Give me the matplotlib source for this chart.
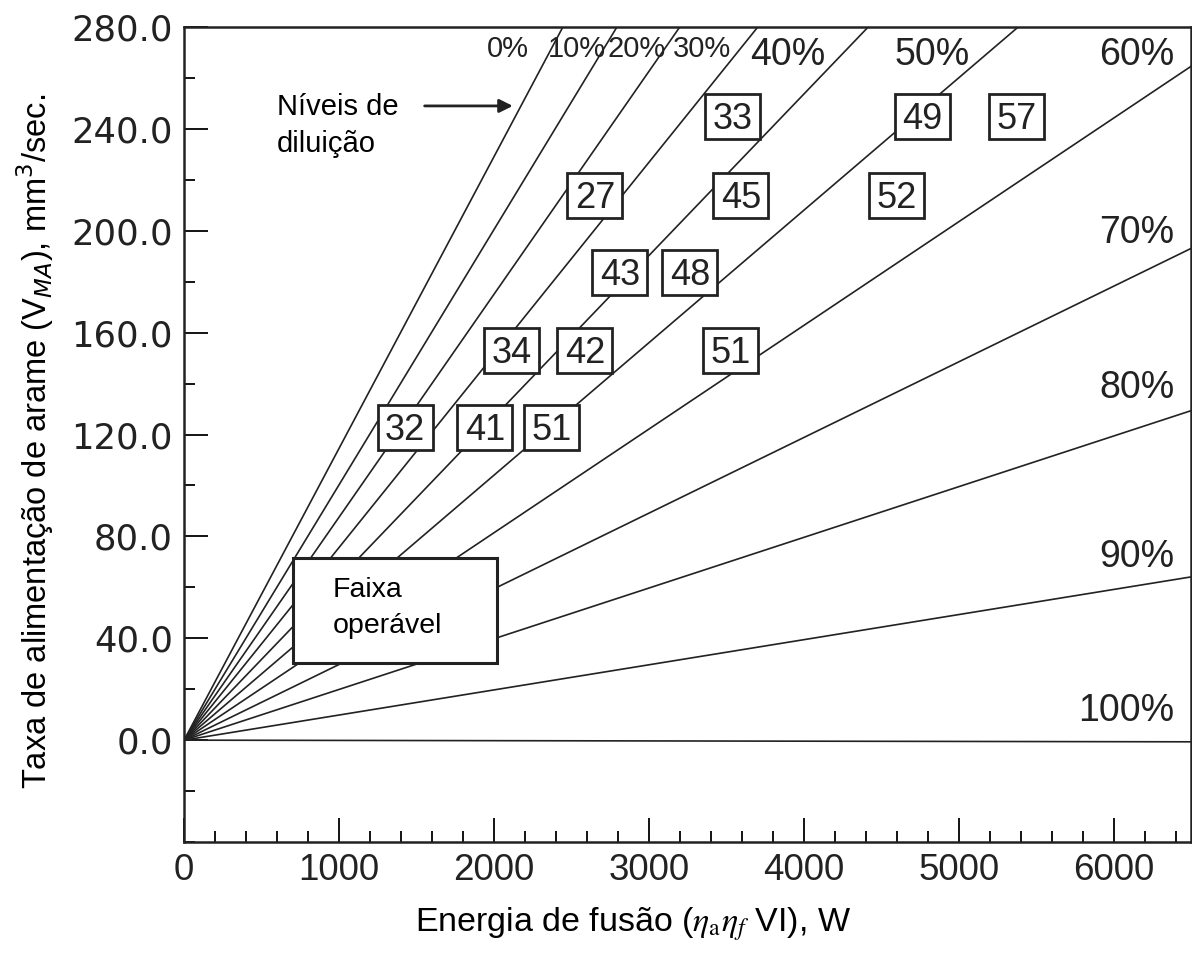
import matplotlib
matplotlib.use("Agg")
import matplotlib.pyplot as plt
from matplotlib.ticker import MultipleLocator
import numpy as np

# dilution lines: wire feed rate at 1000 W of melting power
dilution = ["0%", "10%", "20%", "30%", "40%", "50%", "60%", "70%", "80%", "90%", "100%"]
rate_per_kw = [114.5, 100.2, 87.5, 75.6, 63.4, 52.0, 40.7, 29.7, 19.9, 9.86, -0.1]

# label positions for each dilution level
lab_x = [2090, 2535, 2923, 3342, 3897, 4832, 6394, 6394, 6394, 6394, 6394]
lab_y = [271.5, 271.5, 271.5, 271.5, 269, 269, 269, 199, 138.4, 72, 11.4]

# boxed numbers
box_txt = ["33", "49", "57", "27", "45", "52", "43", "48", "34", "42", "51", "32", "41", "51"]
box_x = [3542, 4768, 5374, 2652, 3594, 4600, 2813, 3265, 2116, 2587, 3529, 1426, 1942, 2374]
box_y = [245, 245, 245, 214, 214, 214, 183.6, 183.6, 153, 153, 153, 122.7, 122.7, 122.7]

fig = plt.figure(figsize=(11.92, 9.56), dpi=100)
ax = fig.add_axes([0.1544, 0.1192, 0.8448, 0.8526])

E = np.array([0, 6500])
for d, k in zip(dilution, rate_per_kw):
    ax.plot(E, k * E / 1000.0, color="#222222", lw=1.2)

for i, d in enumerate(dilution):
    if i < 4:
        ax.text(lab_x[i], lab_y[i], d, fontsize=21, ha="center", va="center",
                family="Liberation Sans", color="#222222")
    elif i < 6:
        ax.text(lab_x[i], lab_y[i], d, fontsize=27, ha="center", va="center",
                family="Liberation Sans", color="#222222")
    else:
        ax.text(lab_x[i], lab_y[i], d, fontsize=27, ha="right", va="center",
                family="Liberation Sans", color="#222222")

# boxes: 355 W wide, 17.7 units tall
for t, x, y in zip(box_txt, box_x, box_y):
    ax.add_patch(plt.Rectangle((x - 177, y - 8.85), 355, 17.7, fc="white",
                               ec="#222222", lw=2, zorder=3))
    ax.annotate(t, (x, y), xytext=(0, -9), textcoords="offset points", fontsize=26,
                ha="center", va="baseline", family="Liberation Sans",
                color="#222222", zorder=4)

# operable range box
ax.add_patch(plt.Rectangle((703, 30.3), 1316, 41.3, fc="white", ec="#222222", lw=2.2, zorder=3))
ax.text(961, 59, "Faixa", fontsize=20.5, family="Liberation Sans", va="center", zorder=4)
ax.text(961, 45, "operável", fontsize=20.5, family="Liberation Sans", va="center", zorder=4)

# dilution level annotation
ax.text(600, 248.5, "Níveis de", fontsize=21, family="Liberation Sans", va="center")
ax.text(600, 234, "diluição", fontsize=21, family="Liberation Sans", va="center")
ax.annotate("", xy=(2140, 249), xytext=(1535, 249),
            arrowprops=dict(arrowstyle="-|>", color="#222222", lw=2, mutation_scale=20))

ax.set_xlim(0, 6500)
ax.set_ylim(-40, 280)
ax.xaxis.set_major_locator(MultipleLocator(1000))
ax.xaxis.set_minor_locator(MultipleLocator(200))
ax.yaxis.set_major_locator(MultipleLocator(40))
ax.yaxis.set_minor_locator(MultipleLocator(20))
ax.set_xticks([0, 1000, 2000, 3000, 4000, 5000, 6000])
ax.set_yticks(np.arange(0, 281, 40))
ax.set_yticklabels(["%.1f" % v for v in np.arange(0, 281, 40)])
ax.tick_params(which="major", direction="in", length=17, width=1.3)
ax.tick_params(which="minor", direction="in", length=8, width=1.3)
ax.tick_params(axis="y", which="both", right=False)
ax.tick_params(axis="x", which="both", top=False, pad=8)
ax.tick_params(axis="y", pad=8)
for lbl in ax.get_xticklabels():
    lbl.set_fontsize(26.5)
    lbl.set_family("Liberation Sans")
    lbl.set_color("#222222")
for lbl in ax.get_yticklabels():
    lbl.set_fontsize(25.5)
    lbl.set_family("DejaVu Sans")
    lbl.set_color("#222222")
for s in ax.spines.values():
    s.set_linewidth(1.8)
    s.set_color("#222222")

xl = ax.set_xlabel(r"Energia de fusão ($\eta_{\rm a}\eta_f$ VI), W", fontsize=24.5,
                   family="Liberation Sans")
xl.set_math_fontfamily("stix")
ax.xaxis.set_label_coords(0.446, -0.078)
ax.set_ylabel(r"Taxa de alimentação de arame (V$_{MA}$), mm$^3$/sec.", fontsize=23.5,
              family="Liberation Sans")
ax.yaxis.set_label_coords(-0.127, 0.491)

fig.savefig("out.png", dpi=100)
